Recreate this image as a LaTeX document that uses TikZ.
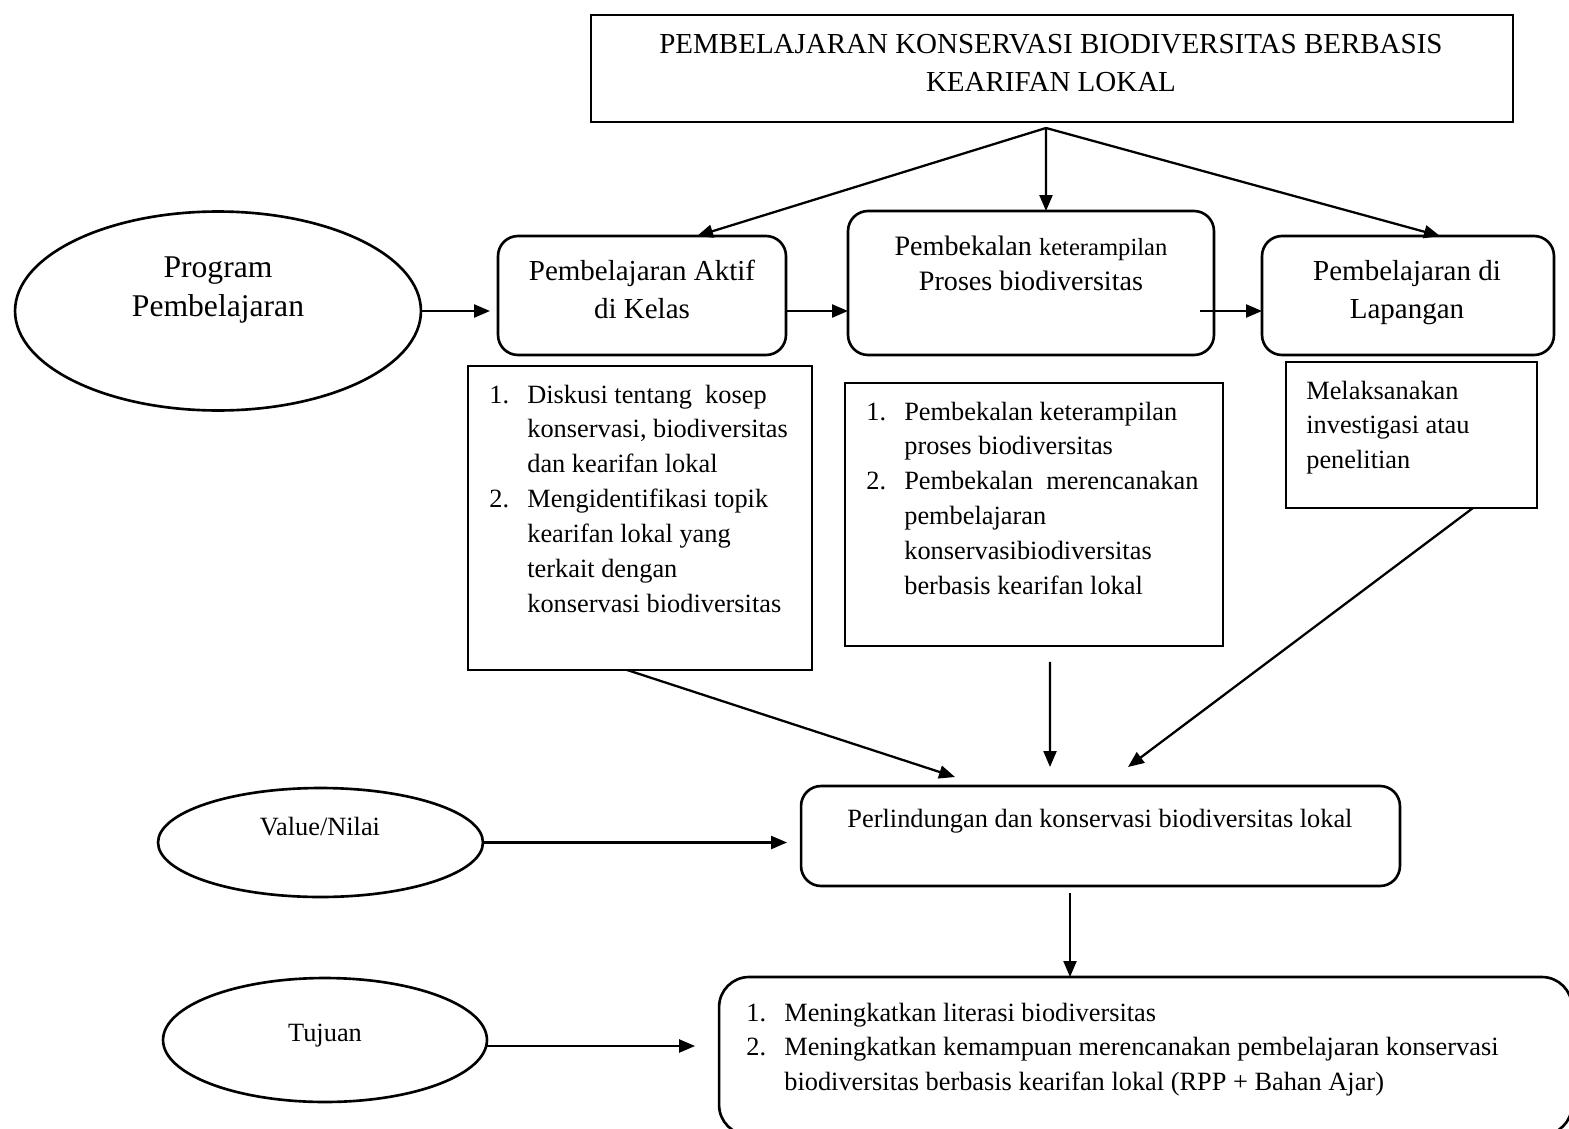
\documentclass[tikz,border=0pt]{standalone}
\usepackage{fontspec}
\setmainfont{Liberation Serif}
\usepackage{tikz}
\usetikzlibrary{shapes.geometric, arrows.meta}

\newcommand{\bodyfont}{\fontsize{15}{19.9}\selectfont}
\newcommand{\headfont}{\fontsize{16.5}{21.6}\selectfont}
\newcommand{\nr}[1]{\makebox[0.76cm][l]{#1}}

\begin{document}
\begin{tikzpicture}[%
    x=0.02cm, y=-0.02cm,
    every node/.style={font=\bodyfont},
    plainbox/.style={draw, line width=1.5pt, inner sep=0pt, outer sep=0pt},
    roundbox/.style={plainbox, rounded corners=0.4cm},
    oval/.style={plainbox, ellipse},
    arr/.style={line width=1.3pt, -{Triangle[length=0.32cm,width=0.26cm]}},
    listtext/.style={anchor=base west, inner sep=0pt, align=left},
]
\useasboundingbox (0,0) rectangle (1569,1129);

% title box
\node[plainbox, minimum width=18.44cm, minimum height=2.14cm] (title) at (1052,68.5) {};
\node[font=\headfont, align=center] (titletext) at (1051,63)
    {PEMBELAJARAN KONSERVASI BIODIVERSITAS BERBASIS\\KEARIFAN LOKAL};

% programme ellipse
\node[oval, minimum width=8.12cm, minimum height=3.98cm] (prog) at (218,311) {};
\node[font=\fontsize{18}{21.8}\selectfont, align=center] (progtext) at (218,290) {Program\\Pembelajaran};

% the three activity boxes
\node[roundbox, minimum width=5.76cm, minimum height=2.38cm] (aktif) at (642,295.5) {};
\node[font=\headfont, align=center] (aktiftext) at (642,289) {Pembelajaran Aktif\\di Kelas};

\node[roundbox, minimum width=7.32cm, minimum height=2.88cm] (bekal) at (1031,283) {};
\node[font=\fontsize{16}{19.9}\selectfont, align=center] (bekaltext) at (1031,263)
    {Pembekalan {\fontsize{14}{19.9}\selectfont keterampilan}\\Proses biodiversitas};

\node[roundbox, minimum width=5.84cm, minimum height=2.38cm] (lapangan) at (1408,295.5) {};
\node[font=\headfont, align=center] (lapangantext) at (1407,293) {Pembelajaran di\\Lapangan};

% lists below the activity boxes
\node[plainbox, minimum width=6.88cm, minimum height=6.08cm] (aktifbox) at (640,518) {};
\node[listtext] (aktiflist) at (489,403) {\begin{tabular}[t]{@{}l@{}}
    \nr{1.}Diskusi tentang\ \ kosep\\
    \nr{}konservasi, biodiversitas\\
    \nr{}dan kearifan lokal\\
    \nr{2.}Mengidentifikasi topik\\
    \nr{}kearifan lokal yang\\
    \nr{}terkait dengan\\
    \nr{}konservasi biodiversitas
\end{tabular}};

\node[plainbox, minimum width=7.56cm, minimum height=5.26cm] (bekalbox) at (1034,514.5) {};
\node[listtext] (bekallist) at (866,420) {\begin{tabular}[t]{@{}l@{}}
    \nr{1.}Pembekalan keterampilan\\
    \nr{}proses biodiversitas\\
    \nr{2.}Pembekalan\ \ merencanakan\\
    \nr{}pembelajaran\\
    \nr{}konservasibiodiversitas\\
    \nr{}berbasis kearifan lokal
\end{tabular}};

\node[plainbox, minimum width=5.02cm, minimum height=2.92cm] (lapbox) at (1411.5,435) {};
\node[listtext] (laplist) at (1306,399) {\begin{tabular}[t]{@{}l@{}}
    Melaksanakan\\
    investigasi atau\\
    penelitian
\end{tabular}};

% protection box and values
\node[roundbox, minimum width=11.98cm, minimum height=2.0cm] (lindung) at (1100.5,836) {};
\node (lindungtext) at (1100,821) {Perlindungan dan konservasi biodiversitas lokal};

\node[oval, minimum width=6.5cm, minimum height=2.18cm] (nilai) at (320.5,842.5) {};
\node (nilaitext) at (320,827) {Value/Nilai};

% goals
\node[roundbox, rounded corners=0.6cm, minimum width=17.06cm, minimum height=3.16cm] (hasil) at (1145.5,1056) {};
\node[listtext] (hasillist) at (746,1021) {\begin{tabular}[t]{@{}l@{}}
    \nr{1.}Meningkatkan literasi biodiversitas\\
    \nr{2.}Meningkatkan kemampuan merencanakan pembelajaran konservasi\\
    \nr{}biodiversitas berbasis kearifan lokal (RPP + Bahan Ajar)
\end{tabular}};

\node[oval, minimum width=6.48cm, minimum height=2.48cm] (tujuan) at (325,1040) {};
\node (tujuantext) at (325,1036) {Tujuan};

% arrows from the title
\coordinate (split) at ([xshift=-0.12cm,yshift=-0.12cm]title.south);
\draw[arr] (split) -- ([xshift=1.1cm]aktif.north);
\draw[arr] (split) -- ([xshift=0.3cm]bekal.north);
\draw[arr] (split) -- ([xshift=0.64cm]lapangan.north);

% arrows along the row
\coordinate (bekalout) at ([xshift=-0.28cm]bekal.east);
\draw[arr, shorten >=0.16cm] (prog.east) -- (prog.east -| aktif.west);
\draw[arr] (aktif.east |- prog.east) -- (bekal.west |- prog.east);
\draw[arr] (bekalout |- prog.east) -- (lapangan.west |- prog.east);

% arrows into the protection box
\draw[arr] ([xshift=-0.26cm]aktifbox.south) -- ([xshift=-2.91cm,yshift=0.18cm]lindung.north);
\draw[arr] ([xshift=0.32cm,yshift=-0.32cm]bekalbox.south) -- ([xshift=-1.01cm,yshift=0.38cm]lindung.north);
\draw[arr] ([xshift=1.23cm]lapbox.south) -- ([xshift=0.55cm,yshift=0.38cm]lindung.north);
\draw[arr, shorten >=0.28cm] (nilai.east) -- (nilai.east -| lindung.west);

% arrows into the goals
\coordinate (lindungout) at ([xshift=-0.61cm,yshift=-0.14cm]lindung.south);
\coordinate (tujuanout) at ([yshift=-0.12cm]tujuan.east);
\draw[arr] (lindungout) -- (lindungout |- hasil.north);
\draw[arr, shorten >=0.48cm] (tujuanout) -- (tujuanout -| hasil.west);

\end{tikzpicture}
\end{document}
